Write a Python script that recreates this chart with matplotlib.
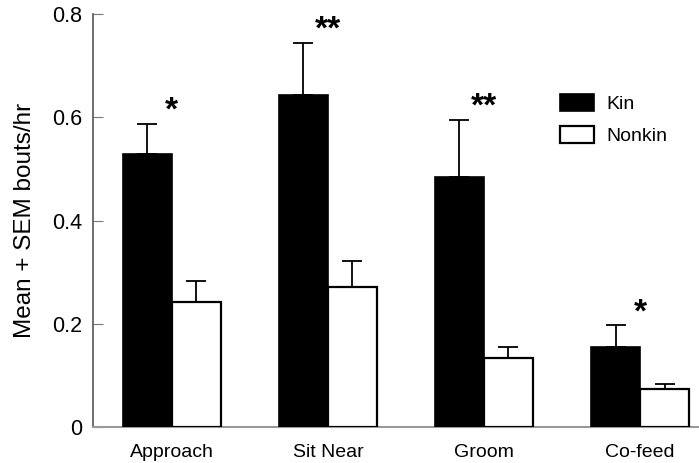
import numpy as np
import matplotlib
matplotlib.use('Agg')
import matplotlib.pyplot as plt

plt.rcParams['font.family'] = ['Liberation Sans', 'DejaVu Sans']

#%% data
behaviours = ['Approach', 'Sit Near', 'Groom', 'Co-feed']
kin_mean = [0.53, 0.644, 0.484, 0.155]
kin_sem = [0.058, 0.101, 0.112, 0.042]
nonkin_mean = [0.242, 0.272, 0.134, 0.073]
nonkin_sem = [0.040, 0.050, 0.021, 0.010]
stars = ['*', '**', '**', '*']

#%% plot
fig = plt.figure(figsize=(6.99, 4.63), dpi=100)
ax = fig.add_axes([0.133, 0.078, 0.867, 0.891])

x = np.arange(len(behaviours))
w = 0.314
ax.bar(x - w/2, kin_mean, w, color='black', edgecolor='black', linewidth=1.2,
       yerr=[np.zeros(4), kin_sem], capsize=7,
       error_kw=dict(elinewidth=1.3, capthick=1.3, ecolor='black'), label='Kin', zorder=3)
ax.bar(x + w/2, nonkin_mean, w, color='white', edgecolor='black', linewidth=1.6,
       yerr=[np.zeros(4), nonkin_sem], capsize=7,
       error_kw=dict(elinewidth=1.3, capthick=1.3, ecolor='black'), label='Nonkin', zorder=3)

for i, s in enumerate(stars):
    top = kin_mean[i] + kin_sem[i]
    ax.text(x[i], top - 0.006, s, ha='center', va='bottom', fontsize=24, fontweight='bold')

ax.set_xlim(-0.506, 3.378)
ax.set_ylim(0, 0.8)
ax.set_yticks([0, 0.2, 0.4, 0.6, 0.8])
ax.set_yticklabels(['0', '0.2', '0.4', '0.6', '0.8'], fontsize=15.5)
ax.set_xticks(x)
ax.set_xticklabels(behaviours, fontsize=14)
ax.tick_params(axis='x', length=0, pad=12)
ax.tick_params(axis='y', direction='in', length=7, color='#777777', pad=8)
ax.set_ylabel('Mean + SEM bouts/hr', fontsize=17.5, labelpad=11)

for side in ['top', 'right']:
    ax.spines[side].set_visible(False)
ax.spines['left'].set_color('#555555')
ax.spines['bottom'].set_color('#999999')
ax.spines['left'].set_linewidth(1.2)
ax.spines['bottom'].set_linewidth(1.5)

ax.legend(loc='upper left', bbox_to_anchor=(0.755, 0.83), frameon=False, fontsize=14,
          handlelength=1.75, handleheight=0.95, borderpad=0, labelspacing=0.65, handletextpad=0.6)

plt.savefig('out.png', dpi=100)
